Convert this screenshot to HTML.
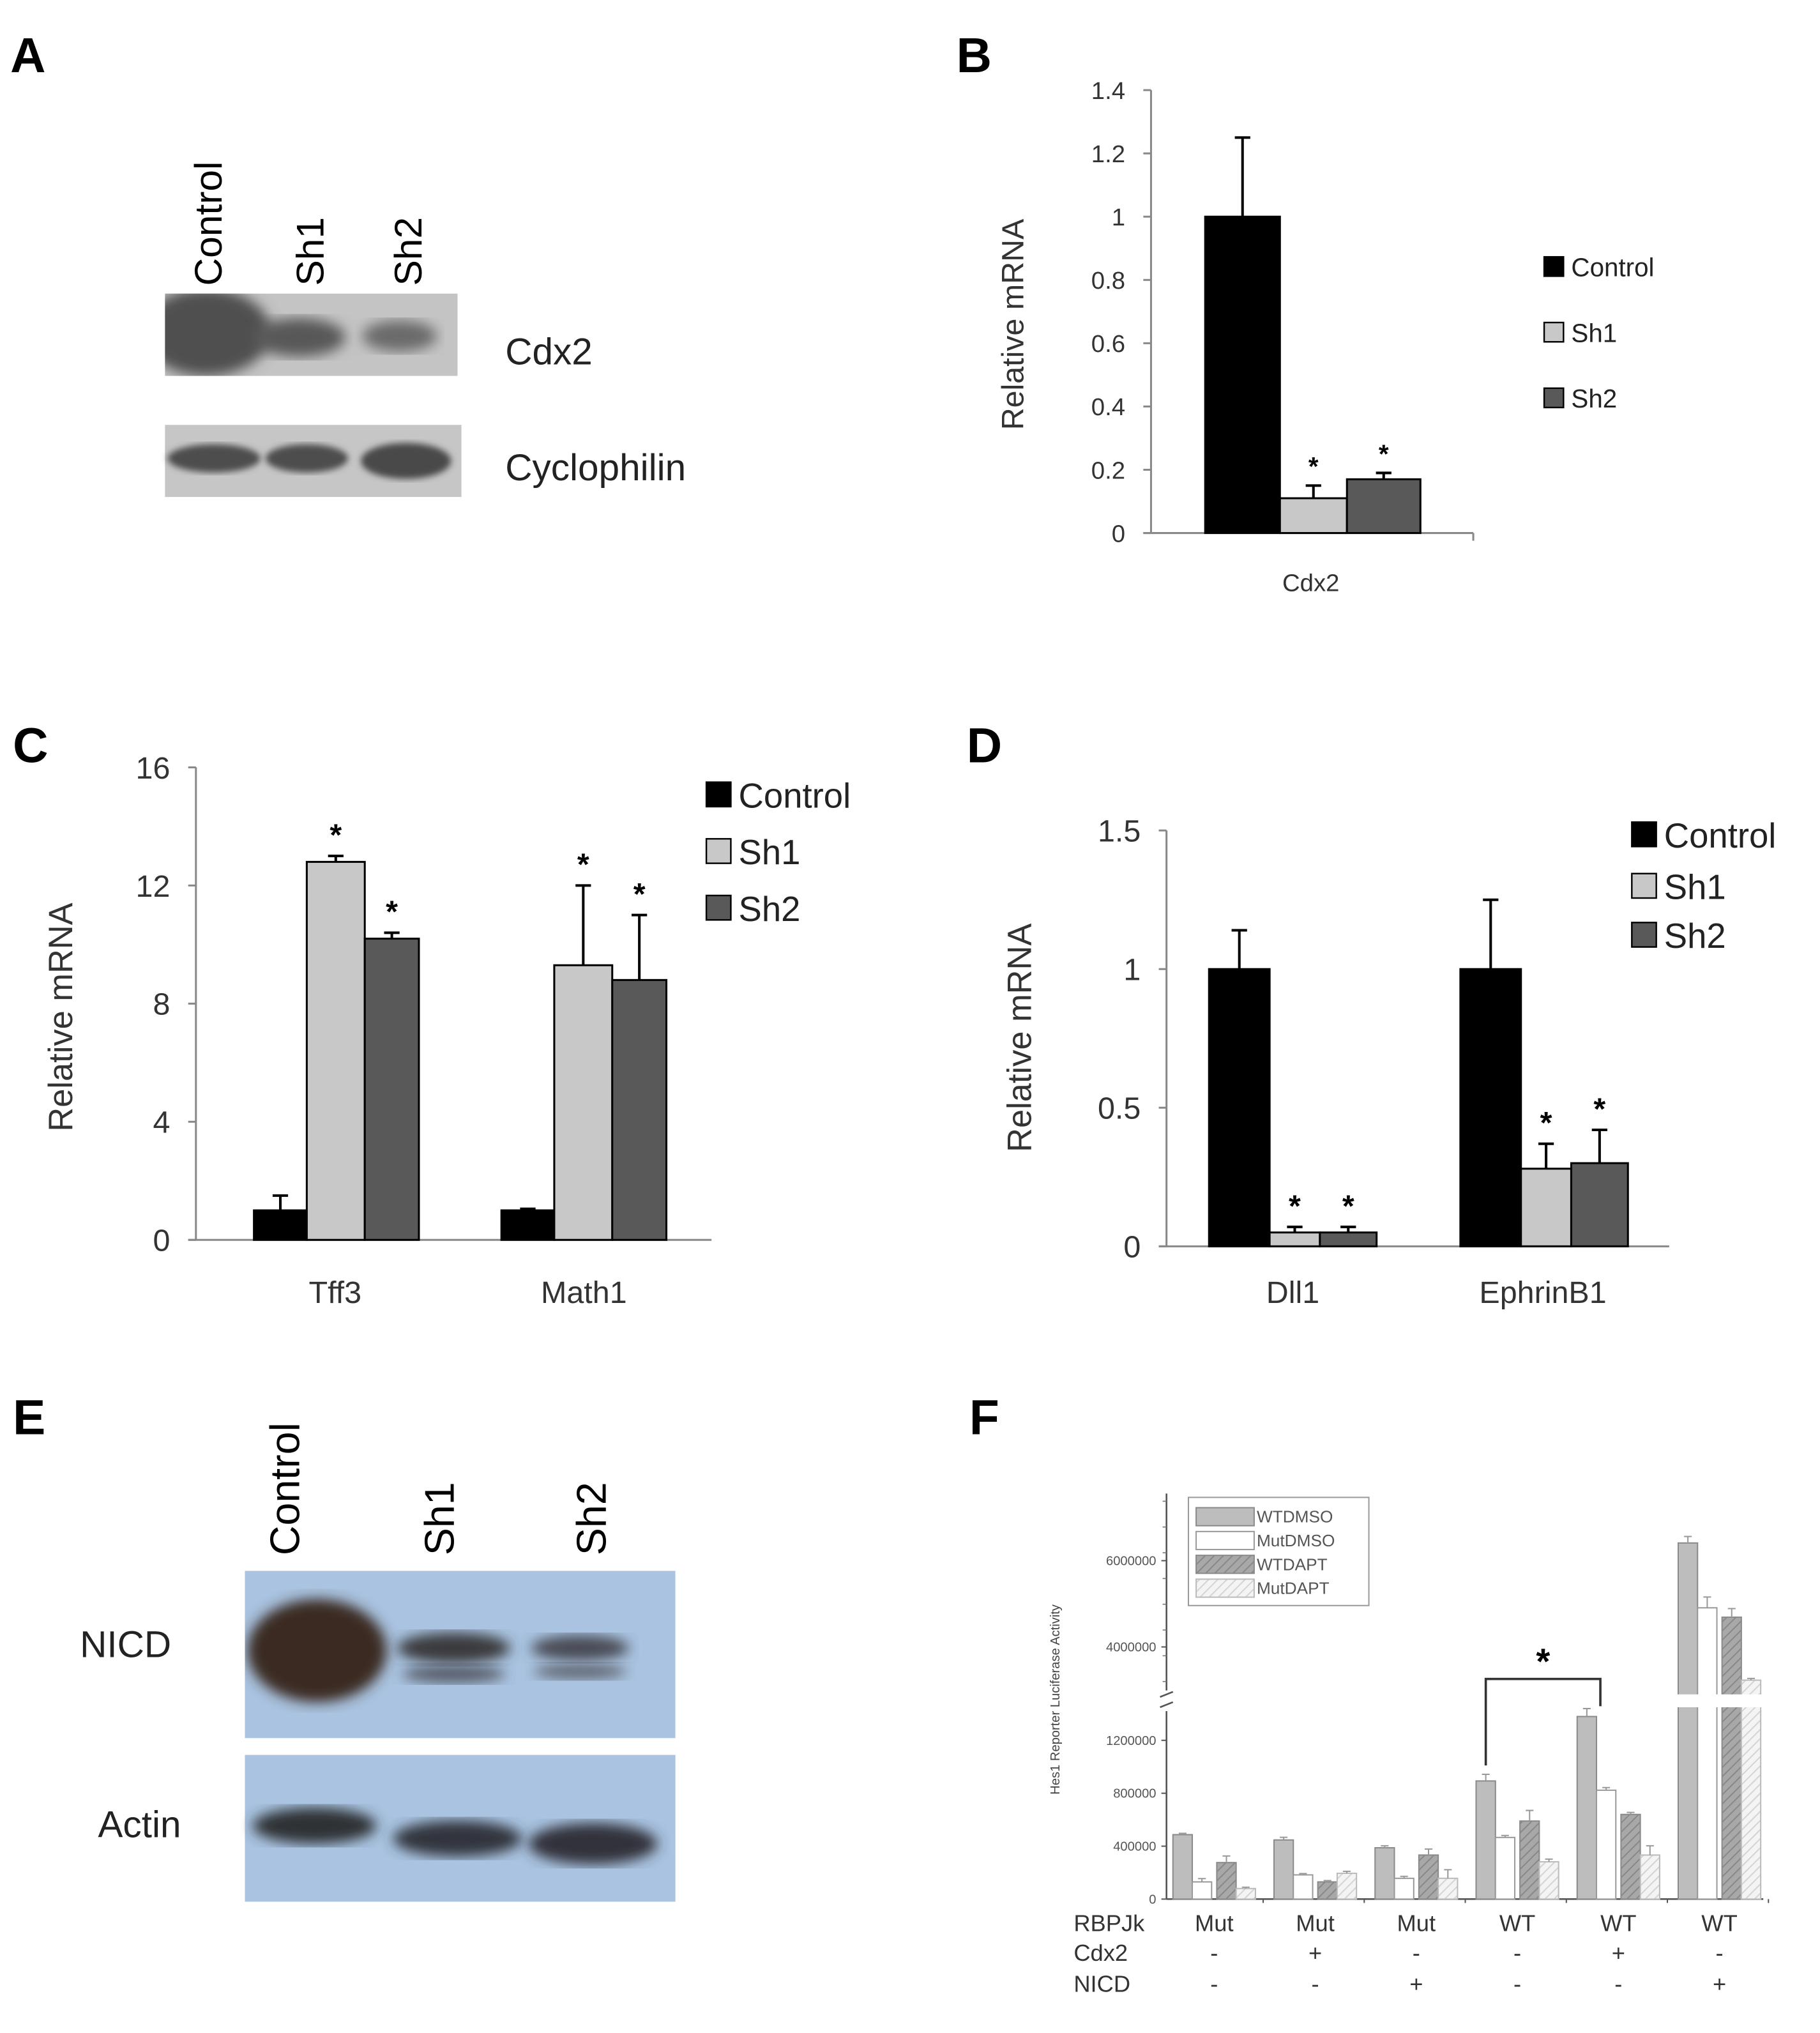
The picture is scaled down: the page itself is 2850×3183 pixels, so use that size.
<!DOCTYPE html>
<html><head><meta charset="utf-8"><style>
html,body{margin:0;padding:0;background:#fff;}
svg{display:block;}
text{font-family:"Liberation Sans",sans-serif;}
</style></head><body>
<svg id="fig" width="2850" height="3183" viewBox="0 0 1412 1579" preserveAspectRatio="none" xmlns="http://www.w3.org/2000/svg">
<defs>
<filter id="blur4"><feGaussianBlur stdDeviation="5"/></filter>
<filter id="blur2"><feGaussianBlur stdDeviation="2.5"/></filter>
<clipPath id="clipCdx2"><rect x="128" y="228" width="227" height="64"/></clipPath>
<clipPath id="clipNicd"><rect x="190" y="1220" width="334" height="130"/></clipPath>
<pattern id="hatchDark" width="5" height="5" patternUnits="userSpaceOnUse" patternTransform="rotate(45)"><rect width="5" height="5" fill="#a8a8a8"/><line x1="0" y1="0" x2="0" y2="5" stroke="#888" stroke-width="2"/></pattern>
<pattern id="hatchLight" width="5" height="5" patternUnits="userSpaceOnUse" patternTransform="rotate(45)"><rect width="5" height="5" fill="#f4f4f4"/><line x1="0" y1="0" x2="0" y2="5" stroke="#d4d4d4" stroke-width="2"/></pattern>
</defs>

<!-- Panel A -->
<g>
<text x="8" y="56" font-size="38" font-weight="bold">A</text>
<text transform="translate(172,222) rotate(-90)" font-size="30">Control</text>
<text transform="translate(251,222) rotate(-90)" font-size="30">Sh1</text>
<text transform="translate(327,222) rotate(-90)" font-size="30">Sh2</text>
<g clip-path="url(#clipCdx2)">
<rect x="128" y="228" width="227" height="64" fill="#c4c4c4"/>
<ellipse cx="160" cy="258" rx="50" ry="34" fill="#505050" filter="url(#blur4)"/>
<ellipse cx="232" cy="262" rx="36" ry="15" fill="#595959" filter="url(#blur4)"/>
<ellipse cx="310" cy="261" rx="29" ry="12" fill="#6a6a6a" filter="url(#blur4)"/>
</g>
<g>
<rect x="128" y="330" width="230" height="56" fill="#c6c6c6"/>
<ellipse cx="166" cy="356" rx="36" ry="11" fill="#4e4e4e" filter="url(#blur2)"/>
<ellipse cx="238" cy="356" rx="32" ry="11" fill="#4e4e4e" filter="url(#blur2)"/>
<ellipse cx="315" cy="358" rx="35" ry="14" fill="#4a4a4a" filter="url(#blur2)"/>
</g>
<text x="392" y="283" font-size="29" fill="#222">Cdx2</text>
<text x="392" y="373" font-size="29" fill="#222">Cyclophilin</text>
</g>

<!-- Panel E -->
<g>
<text x="10" y="1114" font-size="38" font-weight="bold">E</text>
<text transform="translate(232,1208) rotate(-90)" font-size="32">Control</text>
<text transform="translate(352,1208) rotate(-90)" font-size="32">Sh1</text>
<text transform="translate(470,1208) rotate(-90)" font-size="32">Sh2</text>
<g clip-path="url(#clipNicd)">
<rect x="190" y="1220" width="334" height="130" fill="#a9c3e0"/>
<ellipse cx="246" cy="1282" rx="54" ry="40" fill="#3a2a22" filter="url(#blur4)"/>
<ellipse cx="352" cy="1280" rx="44" ry="12" fill="#3a3a3e" filter="url(#blur4)"/>
<ellipse cx="352" cy="1300" rx="40" ry="7" fill="#555a66" filter="url(#blur4)"/>
<ellipse cx="450" cy="1280" rx="38" ry="10" fill="#4a4c55" filter="url(#blur4)"/>
<ellipse cx="450" cy="1298" rx="36" ry="6" fill="#5e6470" filter="url(#blur4)"/>
</g>
<g>
<rect x="190" y="1363" width="334" height="114" fill="#a9c3e0"/>
<ellipse cx="244" cy="1418" rx="48" ry="14" fill="#2e3036" filter="url(#blur4)"/>
<ellipse cx="355" cy="1428" rx="50" ry="14" fill="#33363e" filter="url(#blur4)"/>
<ellipse cx="460" cy="1432" rx="50" ry="16" fill="#30333a" filter="url(#blur4)"/>
</g>
<text x="62" y="1287" font-size="29" fill="#222">NICD</text>
<text x="76" y="1427" font-size="29" fill="#222">Actin</text>
</g>

<g id="charts"></g>
</svg>
<script>
// ----- Panel B data -----
const bCategories = ["Cdx2"];
const bSeries = ["Control", "Sh1", "Sh2"];
const bValues = [[1.0], [0.11], [0.17]];
const bErrors = [[0.25], [0.04], [0.02]];
const bTicks = [0, 0.2, 0.4, 0.6, 0.8, 1, 1.2, 1.4];
// ----- Panel C data -----
const cCategories = ["Tff3", "Math1"];
const cSeries = ["Control", "Sh1", "Sh2"];
const cValues = [[1.0, 1.0], [12.8, 9.3], [10.2, 8.8]];
const cErrors = [[0.5, 0.05], [0.2, 2.7], [0.2, 2.2]];
const cTicks = [0, 4, 8, 12, 16];
// ----- Panel D data -----
const dCategories = ["Dll1", "EphrinB1"];
const dSeries = ["Control", "Sh1", "Sh2"];
const dValues = [[1.0, 1.0], [0.05, 0.28], [0.05, 0.30]];
const dErrors = [[0.14, 0.25], [0.02, 0.09], [0.02, 0.12]];
const dTicks = [0, 0.5, 1, 1.5];
// ----- Panel F data -----
const fGroupsRBP = ["Mut", "Mut", "Mut", "WT", "WT", "WT"];
const fGroupsCdx2 = ["-", "+", "-", "-", "+", "-"];
const fGroupsNICD = ["-", "-", "+", "-", "-", "+"];
const fSeries = ["WTDMSO", "MutDMSO", "WTDAPT", "MutDAPT"];
const fWTDMSO = [487000, 447000, 388000, 893000, 1380000, 6410000];
const fMutDMSO = [130000, 183000, 157000, 466000, 823000, 4907000];
const fWTDAPT = [276000, 130000, 333000, 590000, 640000, 4690000];
const fMutDAPT = [80000, 195000, 157000, 282000, 333000, 3230000];
const fErrWTDMSO = [10000, 20000, 15000, 50000, 60000, 150000];
const fErrMutDMSO = [25000, 10000, 15000, 15000, 20000, 250000];
const fErrWTDAPT = [50000, 10000, 45000, 80000, 15000, 200000];
const fErrMutDAPT = [10000, 15000, 65000, 20000, 70000, 40000];
const fTicksLow = [0, 400000, 800000, 1200000];
const fTicksHigh = [4000000, 6000000];

const NS = "http://www.w3.org/2000/svg";
const root = document.getElementById("charts");
function mk(tag, attrs, parent) {
  const e = document.createElementNS(NS, tag);
  for (const k in attrs) e.setAttribute(k, attrs[k]);
  (parent || root).appendChild(e);
  return e;
}
function txt(s, attrs, parent) { const e = mk("text", attrs, parent); e.textContent = s; return e; }
const fills3 = ["#000000", "#c8c8c8", "#595959"];

function barPanel(o) {
  const g = mk("g", {});
  
  
  const y = v => o.y0 - (v - 0) / o.vmax * (o.y0 - o.ytop);
  txt(o.letter, {x: o.lx, y: o.ly, "font-size": 38, "font-weight": "bold"}, g);
  const ya = mk("line", {x1: o.x0, y1: o.ytop, x2: o.x0, y2: o.y0, stroke: "#888", "stroke-width": 1.5}, g);
  
  
  const xa = mk("line", {x1: o.x0 - 6, y1: o.y0, x2: o.x1, y2: o.y0, stroke: "#888", "stroke-width": 1.5}, g);
  
  
  o.ticks.forEach(t => {
    mk("line", {x1: o.x0 - 6, y1: y(t), x2: o.x0, y2: y(t), stroke: "#888", "stroke-width": 1.5}, g);
    const tl = txt(String(t), {x: o.x0 - 20, y: y(t) + o.tfs * 0.36, "font-size": o.tfs, "text-anchor": "end", fill: "#333"}, g);
    
    
  });
  if (o.catTicks) o.catTicks.forEach(cx => mk("line", {x1: cx, y1: o.y0, x2: cx, y2: o.y0 + 6, stroke: "#888", "stroke-width": 1.5}, g));
  const yt = txt("Relative mRNA", {transform: `translate(${o.titleX},${o.titleY}) rotate(-90)`, "font-size": o.titleFs, "text-anchor": "middle", fill: "#333"}, g);
  
  
  o.cats.forEach((c, ci) => {
    o.series.forEach((s, si) => {
      const bx = o.groupX[ci] + o.barOff[si];
      const bw = o.barW[si];
      const v = o.values[si][ci];
      const r = mk("rect", {x: bx, y: y(v), width: bw, height: o.y0 - y(v), fill: fills3[si], stroke: "#000", "stroke-width": 1.5}, g);
      
      
      const e = o.errors[si][ci];
      const cx = bx + bw / 2;
      const eb = mk("path", {d: `M${cx},${y(v)}V${y(v + e)}M${cx - 6},${y(v + e)}H${cx + 6}`, stroke: "#000", "stroke-width": 2, fill: "none"}, g);
      
      
      if (si > 0) {
        const st = txt("*", {x: cx, y: y(v + e) - 8, "font-size": o.starFs, "text-anchor": "middle", "font-weight": "bold"}, g);
        
        
      }
    });
    const cl = txt(c, {x: o.catLabelX[ci], y: o.catLabelY, "font-size": o.catFs, "text-anchor": "middle", fill: "#333"}, g);
    
    
  });
  o.series.forEach((s, si) => {
    const lg = mk("g", {}, g);
    
    
    mk("rect", {x: o.legX, y: o.legY[si] - o.legSq / 2, width: o.legSq, height: o.legSq, fill: fills3[si], stroke: "#000", "stroke-width": 1.2}, lg);
    txt(s, {x: o.legX + o.legSq + 6, y: o.legY[si] + o.legFs * 0.38, "font-size": o.legFs, fill: "#222"}, lg);
  });
}

barPanel({name: "panel-b", letter: "B", lx: 742, ly: 56, x0: 893, x1: 1143, y0: 414, ytop: 70, vmax: 1.4,
  ticks: bTicks, tfs: 19, cats: bCategories, series: bSeries, values: bValues, errors: bErrors,
  groupX: [935], barOff: [0, 58, 110], barW: [58, 52, 57], titleX: 794, titleY: 252, titleFs: 24,
  starFs: 20, catLabelX: [1017], catLabelY: 459, catFs: 19, catTicks: [1143],
  legX: 1198, legY: [207, 258, 309], legSq: 15, legFs: 20});
barPanel({name: "panel-c", letter: "C", lx: 10, ly: 592, x0: 152, x1: 552, y0: 963, ytop: 596, vmax: 16,
  ticks: cTicks, tfs: 24, cats: cCategories, series: cSeries, values: cValues, errors: cErrors,
  groupX: [197, 389], barOff: [0, 41, 86], barW: [41, 45, 42], titleX: 56, titleY: 790, titleFs: 26,
  starFs: 24, catLabelX: [260, 453], catLabelY: 1012, catFs: 24, catTicks: [],
  legX: 548, legY: [617, 661, 705], legSq: 19, legFs: 27});
barPanel({name: "panel-d", letter: "D", lx: 750, ly: 592, x0: 905, x1: 1295, y0: 968, ytop: 645, vmax: 1.5,
  ticks: dTicks, tfs: 24, cats: dCategories, series: dSeries, values: dValues, errors: dErrors,
  groupX: [938, 1133], barOff: [0, 47, 86], barW: [47, 39, 44], titleX: 800, titleY: 806, titleFs: 26,
  starFs: 24, catLabelX: [1003, 1197], catLabelY: 1012, catFs: 24, catTicks: [],
  legX: 1266, legY: [648, 688, 726], legSq: 19, legFs: 27});

// ----- Panel F -----
(function () {
  const g = mk("g", {});
  
  
  txt("F", {x: 752, y: 1114, "font-size": 38, "font-weight": "bold"}, g);
  const x0 = 905, x1 = 1368, y0 = 1475;
  const lowTop = 1326, lowMax = 1450000, highBot = 1316, highMin = 2900000, pxPer2M = 67;
  const yLow = v => y0 - v / lowMax * (y0 - lowTop);
  const yHigh = v => highBot - (v - highMin) / 2000000 * pxPer2M;
  const yv = v => v <= lowMax ? yLow(v) : yHigh(v);
  const ya = mk("path", {d: `M${x0},1160V1313M${x0},1329V${y0}`, stroke: "#555", "stroke-width": 1.3, fill: "none"}, g);
  
  
  mk("path", {d: `M${x0 - 5},1318L${x0 + 5},1314M${x0 - 5},1326L${x0 + 5},1322`, stroke: "#555", "stroke-width": 1.3}, g);
  const xa = mk("line", {x1: x0, y1: y0, x2: x1, y2: y0, stroke: "#555", "stroke-width": 1.3}, g);
  
  
  fTicksLow.forEach(t => {
    mk("line", {x1: x0 - 4, y1: yLow(t), x2: x0, y2: yLow(t), stroke: "#555"}, g);
    const tl = txt(String(t), {x: x0 - 8, y: yLow(t) + 3.5, "font-size": 10, "text-anchor": "end", fill: "#555"}, g);
    
    
  });
  fTicksHigh.forEach(t => {
    mk("line", {x1: x0 - 4, y1: yHigh(t), x2: x0, y2: yHigh(t), stroke: "#555"}, g);
    const tl = txt(String(t), {x: x0 - 8, y: yHigh(t) + 3.5, "font-size": 10, "text-anchor": "end", fill: "#555"}, g);
    
    
  });
  for (let k = 0; k < 8; k++) mk("line", {x1: x0 - 3, y1: 1166 + k * 20, x2: x0, y2: 1166 + k * 20, stroke: "#777", "stroke-width": 0.8}, g);
  const yt = txt("Hes1 Reporter Luciferase Activity", {transform: "translate(822,1320) rotate(-90)", "font-size": 10, "text-anchor": "middle", fill: "#444"}, g);
  
  

  const series = [fWTDMSO, fMutDMSO, fWTDAPT, fMutDAPT];
  const errs = [fErrWTDMSO, fErrMutDMSO, fErrWTDAPT, fErrMutDAPT];
  const fills = ["#bdbdbd", "#ffffff", "url(#hatchDark)", "url(#hatchLight)"];
  const strokes = ["#8a8a8a", "#999", "#8a8a8a", "#bbb"];
  const groupStart = fGroupsRBP.map((_, i) => 910 + i * 78.4);
  const off = [0, 15, 34, 49], bw = 15;
  fGroupsRBP.forEach((lab, gi) => {
    series.forEach((arr, si) => {
      const v = arr[gi];
      const bx = groupStart[gi] + off[si];
      const top = yv(v);
      const r = mk("rect", {x: bx, y: top, width: bw, height: y0 - top, fill: fills[si], stroke: strokes[si], "stroke-width": 1}, g);
      
      
      if (v > lowMax) {
        mk("rect", {x: bx - 1, y: 1316, width: bw + 2, height: 10, fill: "#fff"}, g);
      }
      const e = errs[si][gi];
      const cx = bx + bw / 2;
      const eb = mk("path", {d: `M${cx},${top}V${yv(v + e)}M${cx - 3},${yv(v + e)}H${cx + 3}`, stroke: "#999", "stroke-width": 1, fill: "none"}, g);
      
      
    });
    const cx = groupStart[gi] + 32;
    mk("line", {x1: groupStart[gi] + 70, y1: y0, x2: groupStart[gi] + 70, y2: y0 + 3, stroke: "#555"}, g);
    [[fGroupsRBP, 1500], [fGroupsCdx2, 1523], [fGroupsNICD, 1547]].forEach(([a, yy]) => {
      const t = txt(a[gi], {x: cx, y: yy, "font-size": 18, "text-anchor": "middle", fill: "#333"}, g);
      
      
    });
  });
  ["RBPJk", "Cdx2", "NICD"].forEach((s, i) => {
    const t = txt(s, {x: 833, y: [1500, 1523, 1547][i], "font-size": 18, fill: "#333"}, g);
    
    
  });
  const bxl = groupStart[3] + 7.5, bxr = groupStart[4] + 18;
  const br = mk("path", {d: `M${bxl},${yLow(fWTDMSO[3]) - 12}V1304H${bxr}V${yLow(fWTDMSO[4]) - 8}`, stroke: "#333", "stroke-width": 1.8, fill: "none"}, g);
  
  
  const st = txt("*", {x: (bxl + bxr) / 2, y: 1300, "font-size": 28, "text-anchor": "middle", "font-weight": "bold"}, g);
  
  
  const lg = mk("g", {}, g);
  
  
  mk("rect", {x: 922, y: 1163, width: 140, height: 84, fill: "#fff", stroke: "#999", "stroke-width": 1}, lg);
  fSeries.forEach((s, si) => {
    const e = mk("g", {}, lg);
    
    
    const yy = 1171 + si * 18.5;
    mk("rect", {x: 928, y: yy, width: 45, height: 14, fill: fills[si], stroke: strokes[si], "stroke-width": 1}, e);
    txt(s, {x: 975, y: yy + 11.5, "font-size": 13, fill: "#555"}, e);
  });
})();
</script>
</body></html>
